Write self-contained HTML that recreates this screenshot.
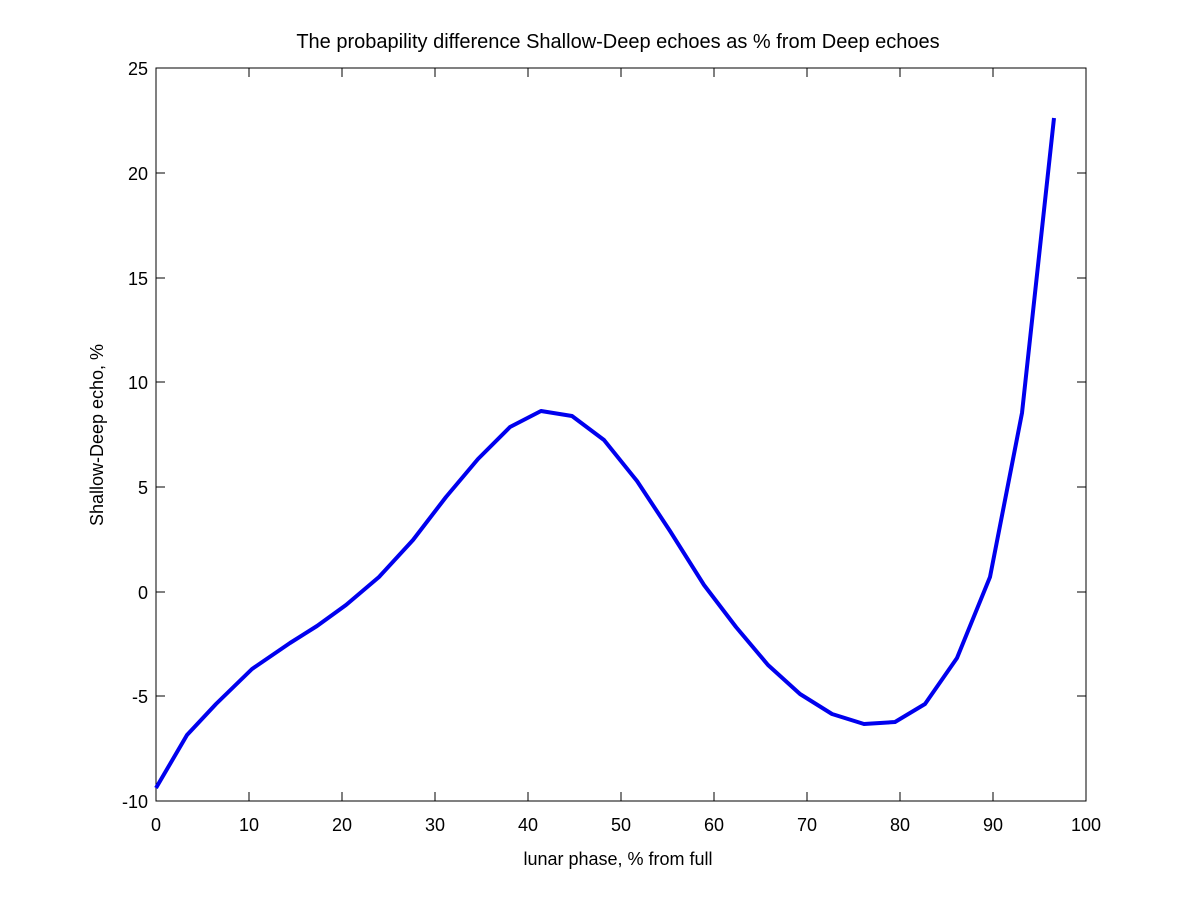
<!DOCTYPE html>
<html><head><meta charset="utf-8"><style>body{margin:0;background:#fff}</style></head><body>
<svg width="1200" height="900" xmlns="http://www.w3.org/2000/svg" font-family="Liberation Sans, sans-serif" font-size="18">
<rect width="1200" height="900" fill="#fff"/>
<rect x="156" y="68" width="930" height="733" fill="#fff" stroke="#000" stroke-width="1"/>
<g stroke="#000" stroke-width="1">
<path d="M156,801v-9M249,801v-9M342,801v-9M435,801v-9M528,801v-9M621,801v-9M714,801v-9M807,801v-9M900,801v-9M993,801v-9M1086,801v-9"/>
<path d="M156,68v9M249,68v9M342,68v9M435,68v9M528,68v9M621,68v9M714,68v9M807,68v9M900,68v9M993,68v9M1086,68v9"/>
<path d="M156,801h9M156,696h9M156,592h9M156,487h9M156,382h9M156,278h9M156,173h9M156,68h9"/>
<path d="M1086,801h-9M1086,696h-9M1086,592h-9M1086,487h-9M1086,382h-9M1086,278h-9M1086,173h-9M1086,68h-9"/>
</g>
<g text-anchor="middle">
<text x="156" y="831">0</text><text x="249" y="831">10</text><text x="342" y="831">20</text><text x="435" y="831">30</text><text x="528" y="831">40</text><text x="621" y="831">50</text><text x="714" y="831">60</text><text x="807" y="831">70</text><text x="900" y="831">80</text><text x="993" y="831">90</text><text x="1086" y="831">100</text>
<text x="618" y="865">lunar phase, % from full</text>
<text x="618" y="48" font-size="20">The probapility difference Shallow-Deep echoes as % from Deep echoes</text>
<text transform="translate(103,435) rotate(-90)">Shallow-Deep echo, %</text>
</g>
<g text-anchor="end">
<text x="148" y="808">-10</text><text x="148" y="703">-5</text><text x="148" y="599">0</text><text x="148" y="494">5</text><text x="148" y="389">10</text><text x="148" y="285">15</text><text x="148" y="180">20</text><text x="148" y="75">25</text>
</g>
<polyline fill="none" stroke="#0000ee" stroke-width="4" stroke-linejoin="round" points="156,788 187,735 216,704 252,669 290,643 317,626 346,605 379,577 413,540 446,497 478,459 510,427 541,411 572,416 604,440 637,481 670,531 704,585 736,627 768,665 800,694 832,714 864,724 895,722 925,704 957,658 990,577 1022,413 1054,118"/>
</svg>
</body></html>
